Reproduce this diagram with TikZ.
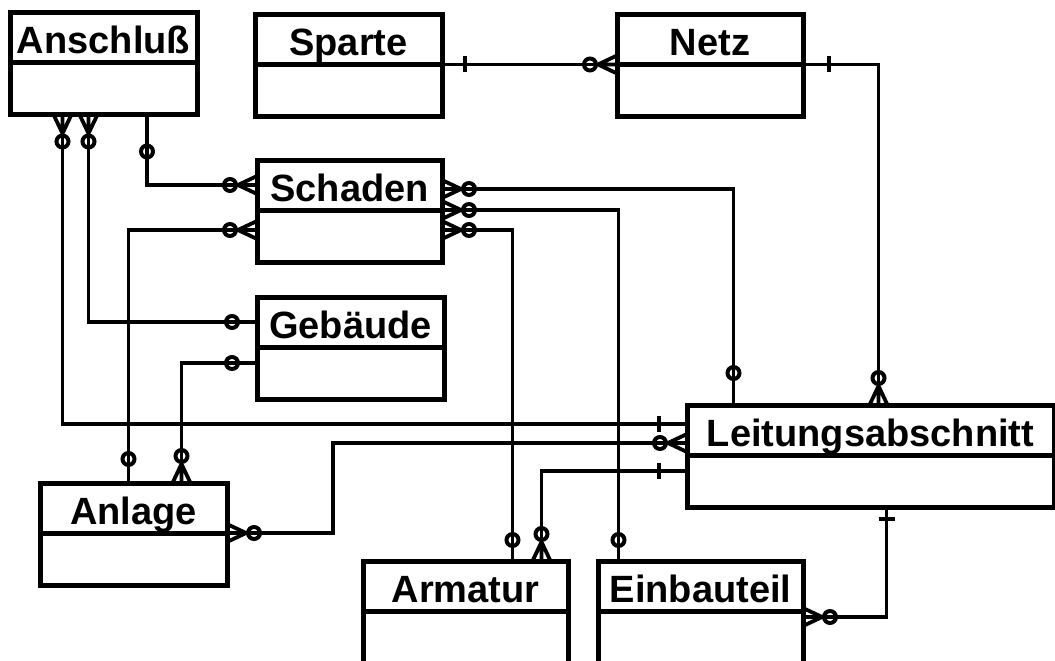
\documentclass[tikz,border=0pt]{standalone}
\usepackage{fontspec}
\setmainfont{Liberation Sans}
\usetikzlibrary{arrows.meta,positioning}

% crow's foot, line stub and bar for the relation ends
\pgfdeclarearrow{
  name=Crow,
  parameters={\the\pgfarrowlength,\the\pgfarrowwidth},
  setup code={
    \pgfarrowssettipend{0pt}
    \pgfarrowssetlineend{-\pgfarrowlength}
    \pgfarrowssetbackend{-\pgfarrowlength}
    \pgfarrowssavethe\pgfarrowlength
    \pgfarrowssavethe\pgfarrowwidth
  },
  drawing code={
    \pgfpathmoveto{\pgfqpoint{0pt}{.5\pgfarrowwidth}}
    \pgfpathlineto{\pgfqpoint{-\pgfarrowlength}{0pt}}
    \pgfpathlineto{\pgfqpoint{0pt}{-.5\pgfarrowwidth}}
    \pgfpathmoveto{\pgfqpoint{-\pgfarrowlength}{0pt}}
    \pgfpathlineto{\pgfqpoint{0pt}{0pt}}
    \pgfusepathqstroke
  },
  defaults={length=19pt,width=18pt}
}
\pgfdeclarearrow{
  name=Stem,
  parameters={\the\pgfarrowlength},
  setup code={
    \pgfarrowssettipend{0pt}
    \pgfarrowssetlineend{-\pgfarrowlength}
    \pgfarrowssetbackend{-\pgfarrowlength}
    \pgfarrowssavethe\pgfarrowlength
  },
  drawing code={
    \pgfpathmoveto{\pgfqpoint{0pt}{0pt}}
    \pgfpathlineto{\pgfqpoint{-\pgfarrowlength}{0pt}}
    \pgfusepathqstroke
  },
  defaults={length=17pt}
}
\pgfdeclarearrow{
  name=Tick,
  parameters={\the\pgfarrowlength,\the\pgfarrowwidth},
  setup code={
    \pgfarrowssettipend{0pt}
    \pgfarrowssetlineend{-\pgfarrowlength}
    \pgfarrowssetbackend{-\pgfarrowlength}
    \pgfarrowssavethe\pgfarrowlength
    \pgfarrowssavethe\pgfarrowwidth
  },
  drawing code={
    \pgfpathmoveto{\pgfqpoint{0pt}{0pt}}
    \pgfpathlineto{\pgfqpoint{-\pgfarrowlength}{0pt}}
    \pgfpathmoveto{\pgfqpoint{-\pgfarrowlength}{.5\pgfarrowwidth}}
    \pgfpathlineto{\pgfqpoint{-\pgfarrowlength}{-.5\pgfarrowwidth}}
    \pgfusepathqstroke
  },
  defaults={length=24pt,width=16pt}
}
\pgfdeclarearrow{name=Ring, means={Circle[open,length=16pt,width=16pt,line width=4pt]}}

\begin{document}
\begin{tikzpicture}[x=1pt, y=-1pt,
    head/.style={draw, line width=5pt, minimum height=50pt, inner sep=0pt, outer sep=0pt,
      text height=34pt, text depth=2pt, font=\fontsize{38}{40}\selectfont\bfseries},
    body/.style={draw, line width=5pt, minimum height=52pt, inner sep=0pt, outer sep=0pt},
    rel/.style={line width=3.8pt}
  ]
  \useasboundingbox (0,0) rectangle (1055,661);

  % entities
  \node[head, minimum width=187pt] (anschluss) at (103.5,37.5) {Anschluß};
  \node[body, minimum width=187pt, below=0pt of anschluss] (anschluss-b) {};
  \node[head, minimum width=187pt] (sparte) at (348.5,39.5) {Sparte};
  \node[body, minimum width=187pt, below=0pt of sparte] (sparte-b) {};
  \node[head, minimum width=186pt] (netz) at (710,39.5) {Netz};
  \node[body, minimum width=186pt, below=0pt of netz] (netz-b) {};
  \node[head, minimum width=185pt] (schaden) at (349.5,185) {Schaden};
  \node[body, minimum width=185pt, below=0pt of schaden] (schaden-b) {};
  \node[head, minimum width=187pt] (gebaeude) at (350.5,322) {Gebäude};
  \node[body, minimum width=187pt, below=0pt of gebaeude] (gebaeude-b) {};
  \node[head, minimum width=367pt] (leitung) at (870.5,430) {Leitungsabschnitt};
  \node[body, minimum width=367pt, below=0pt of leitung] (leitung-b) {};
  \node[head, minimum width=187pt] (anlage) at (133.5,508) {Anlage};
  \node[body, minimum width=187pt, below=0pt of anlage] (anlage-b) {};
  \node[head, minimum width=205pt] (armatur) at (465.5,586) {Armatur};
  \node[body, minimum width=205pt, below=0pt of armatur] (armatur-b) {};
  \node[head, minimum width=205pt] (einbauteil) at (700.5,586) {Einbauteil};
  \node[body, minimum width=205pt, below=0pt of einbauteil] (einbauteil-b) {};

  % relations
  \draw[rel, {Tick[length=23pt]}-{Ring[]Crow[]}] (sparte.south east) -- (netz.south west);
  \draw[rel, {Tick[length=26pt]}-{Ring[]Crow[]}] (netz.south east) -| ([xshift=8pt]leitung.north);
  \draw[rel, {Stem[length=29pt]Ring[]}-{Ring[]Crow[]}] ([xshift=43.5pt]anschluss-b.south) |- (schaden.west);
  \draw[rel, {Crow[]Ring[]}-{Ring[]Stem[length=16pt]}] ([yshift=6pt]schaden-b.west) -| ([xshift=-5pt]anlage.north);
  \draw[rel, {Crow[]Ring[]}-{Ring[]Stem[]}] ([xshift=-15pt]anschluss-b.south) |- (gebaeude.west);
  \draw[rel, {Crow[]Ring[]}-{Tick[length=28pt]}] ([xshift=-41pt]anschluss-b.south) |- ([yshift=6pt]leitung.west);
  \draw[rel, {Stem[]Ring[]}-{Ring[]Crow[]}] ([yshift=10pt]gebaeude-b.west) -| ([xshift=48pt]anlage.north);
  \draw[rel, {Crow[]Ring[]}-{Ring[]Crow[]}] (anlage.south east) -- ++(106,0) |- ([yshift=-13pt]leitung.west);
  \draw[rel, {Crow[]Ring[]}-{Ring[]Stem[length=24pt]}] ([yshift=-4pt]schaden.east) -| ([xshift=-137pt]leitung.north);
  \draw[rel, {Crow[]Ring[]}-{Ring[]Stem[length=13pt]}] (schaden.south east) -| ([xshift=-82pt]einbauteil.north);
  \draw[rel, {Crow[]Ring[]}-{Ring[]Stem[length=13pt]}] ([yshift=6pt]schaden-b.east) -| ([xshift=47pt]armatur.north);
  \draw[rel, {Tick[length=28pt]}-{Ring[]Crow[]}] ([yshift=-41pt]leitung.west) -| ([xshift=76pt]armatur.north);
  \draw[rel, {Tick[length=12pt]}-{Ring[]Crow[]}] ([xshift=16pt]leitung-b.south) |- ([yshift=-6pt]einbauteil.south east);
\end{tikzpicture}
\end{document}
